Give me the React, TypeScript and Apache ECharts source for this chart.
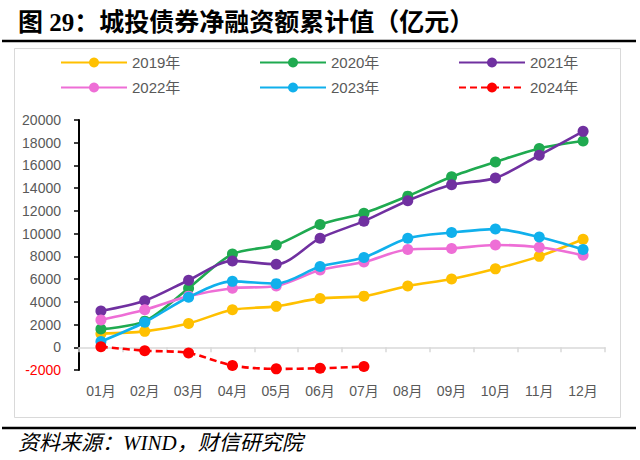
import React, { useEffect, useRef } from "react";
import * as echarts from "echarts";

const categories = ["01月", "02月", "03月", "04月", "05月", "06月", "07月", "08月", "09月", "10月", "11月", "12月"];
const seriesNames = ["2019年", "2020年", "2021年", "2022年", "2023年", "2024年"];
const s2019 = [1200, 1400, 2100, 3300, 3600, 4300, 4500, 5400, 6000, 6900, 8000, 9500];
const s2020 = [1600, 2300, 5200, 8200, 9000, 10800, 11800, 13300, 15000, 16300, 17500, 18150];
const s2021 = [3200, 4100, 5900, 7600, 7300, 9600, 11100, 12900, 14300, 14900, 16900, 19000];
const s2022 = [2400, 3300, 4500, 5200, 5400, 6800, 7500, 8600, 8700, 9000, 8800, 8100];
const s2023 = [500, 2200, 4400, 5800, 5600, 7100, 7900, 9600, 10100, 10400, 9700, 8600];
const s2024 = [50, -300, -500, -1600, -1900, -1850, -1700];
const yMin = -2000;
const yMax = 20000;
const yStep = 2000;

const titleText = "图 29：城投债券净融资额累计值（亿元）";
const sourceText = "资料来源：WIND，财信研究院";

const colors = ["#FFC000", "#1FAA50", "#7030A0", "#EE6ED6", "#10B0EC", "#FF0000"];
const FONT = '"Liberation Sans", "Noto Sans CJK SC", sans-serif';

export default function App() {
  const ref = useRef<HTMLDivElement>(null);
  useEffect(() => {
    if (!ref.current) return;
    const chart = echarts.init(ref.current, undefined, { renderer: "svg" });
    const dataList = [s2019, s2020, s2021, s2022, s2023, s2024];
    const series = dataList.map((d, i) => ({
      name: seriesNames[i],
      type: "line",
      data: d,
      xAxisIndex: 0,
      yAxisIndex: 0,
      smooth: 0.3,
      symbol: "circle",
      symbolSize: 11,
      showSymbol: true,
      lineStyle: { color: colors[i], width: 2.6, type: i === 5 ? [7, 4] : "solid" },
      itemStyle: { color: colors[i] },
      z: 2 + i,
    }));
    const legendBase = {
      orient: "vertical",
      itemWidth: 66,
      itemHeight: 12.5,
      itemGap: 10,
      padding: 0,
      selectedMode: false,
      textStyle: { color: "#595959", fontSize: 15, fontFamily: FONT },
    };
    chart.setOption({
      animation: false,
      backgroundColor: "#ffffff",
      legend: [
        { ...legendBase, data: [seriesNames[0], seriesNames[3]], left: 60, top: 55 },
        { ...legendBase, data: [seriesNames[1], seriesNames[4]], left: 259, top: 55 },
        { ...legendBase, data: [seriesNames[2], seriesNames[5]], left: 458, top: 55 },
      ],
      grid: { left: 79, top: 120, width: 526, height: 250, containLabel: false },
      xAxis: [
        {
          type: "category",
          data: categories,
          position: "bottom",
          boundaryGap: true,
          axisLine: { show: false, onZero: false },
          axisTick: { show: false },
          axisLabel: { color: "#595959", fontSize: 14, margin: 14, fontFamily: FONT },
          splitLine: { show: false },
        },
        {
          type: "category",
          data: categories,
          position: "bottom",
          boundaryGap: true,
          axisLine: { show: true, onZero: true, lineStyle: { color: "#D9D9D9", width: 1.5 } },
          axisTick: { show: true, length: 5, lineStyle: { color: "#D9D9D9", width: 1.5 } },
          axisLabel: { show: false },
          splitLine: { show: false },
        },
      ],
      yAxis: {
        type: "value",
        min: yMin,
        max: yMax,
        interval: yStep,
        axisLine: { show: true, lineStyle: { color: "#000000", width: 2 } },
        axisTick: { show: true, length: 5, lineStyle: { color: "#000000", width: 1.5 } },
        splitLine: { show: false },
        axisLabel: {
          color: "#595959",
          fontSize: 14,
          margin: 18,
          fontFamily: FONT,
          formatter: (v: number) => (v < 0 ? `{neg|${v}}` : `${v}`),
          rich: { neg: { color: "#FF0000", fontSize: 14, fontFamily: FONT } },
        },
      },
      series,
      graphic: [
        {
          type: "text",
          left: 18,
          top: 10,
          style: {
            text: titleText,
            fill: "#000000",
            font: 'bold 25px "Liberation Serif", "Noto Sans CJK SC", serif',
          },
        },
        {
          type: "line",
          shape: { x1: 2, y1: 41, x2: 636, y2: 41 },
          style: { stroke: "#000000", lineWidth: 2.5 },
        },
        {
          type: "rect",
          shape: { x: 14.5, y: 48.5, width: 606, height: 369 },
          style: { fill: "none", stroke: "#D9D9D9", lineWidth: 1 },
          z: -1,
        },
        {
          type: "line",
          shape: { x1: 2, y1: 428, x2: 636, y2: 428 },
          style: { stroke: "#000000", lineWidth: 2.5 },
        },
        {
          type: "text",
          left: 18,
          top: 432,
          style: {
            text: sourceText,
            fill: "#000000",
            font: 'italic 21px "Liberation Serif", "Noto Sans CJK SC", serif',
          },
        },
      ],
    });
    return () => chart.dispose();
  }, []);
  return (
    <div
      ref={ref}
      style={{ position: "fixed", left: 0, top: 0, width: 640, height: 460, background: "#fff" }}
    />
  );
}
